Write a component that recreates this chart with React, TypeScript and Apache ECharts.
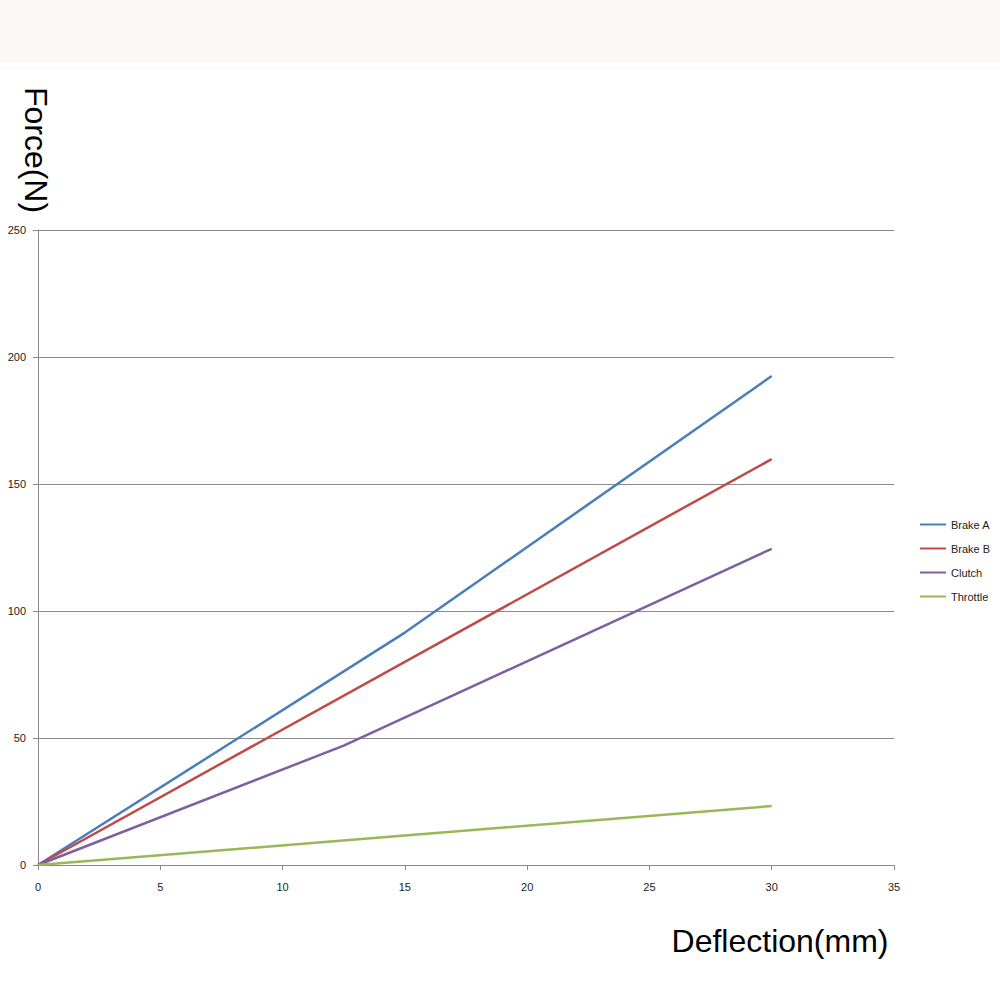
import React, { useEffect, useRef } from "react";
import * as echarts from "echarts";

const seriesNames = ["Brake A", "Brake B", "Clutch", "Throttle"];
const colors = ["#4a7ebb", "#be4b48", "#7d60a0", "#98b954"];
const brakeA: [number, number][] = [[0, 0], [15, 91.5], [30, 192.5]];
const brakeB: [number, number][] = [[0, 0], [15, 80], [30, 159.8]];
const clutch: [number, number][] = [[0, 0], [12.5, 47], [30, 124.5]];
const throttle: [number, number][] = [[0, 0], [15, 11.6], [30, 23.2]];
const xTitle = "Deflection(mm)";
const yTitle = "Force(N)";

export default function App() {
  const ref = useRef<HTMLDivElement>(null);
  useEffect(() => {
    document.body.style.margin = "0";
    const chart = echarts.init(ref.current!, null, { renderer: "svg" });
    const data = [brakeA, brakeB, clutch, throttle];
    chart.setOption({
      animation: false,
      backgroundColor: "#ffffff",
      grid: { left: 38, right: 106, top: 230, bottom: 135 },
      xAxis: {
        type: "value",
        min: 0,
        max: 35,
        interval: 5,
        splitLine: { show: false },
        axisLine: { lineStyle: { color: "#8a8a8a", width: 1 } },
        axisTick: { show: true, length: 5, lineStyle: { color: "#8a8a8a" } },
        axisLabel: { color: "#222", fontSize: 11, fontFamily: "Liberation Sans", margin: 16 },
      },
      yAxis: {
        type: "value",
        min: 0,
        max: 250,
        interval: 50,
        splitLine: { show: true, lineStyle: { color: "#8a8a8a", width: 1 } },
        axisLine: { show: true, lineStyle: { color: "#8a8a8a", width: 1 } },
        axisTick: { show: true, length: 5, lineStyle: { color: "#8a8a8a" } },
        axisLabel: { color: "#222", fontSize: 11, fontFamily: "Liberation Sans", margin: 12 },
      },
      legend: {
        orient: "vertical",
        left: 915,
        top: 514,
        icon: "rect",
        itemWidth: 26,
        itemHeight: 2,
        itemGap: 13,
        data: seriesNames,
        textStyle: { fontSize: 11, color: "#222", fontFamily: "Liberation Sans" },
      },
      series: seriesNames.map((name, i) => ({
        name,
        type: "line",
        data: data[i],
        symbol: "none",
        showSymbol: false,
        smooth: false,
        color: colors[i],
        lineStyle: { width: 2.5, color: colors[i] },
      })),
      graphic: [
        { type: "rect", shape: { x: 0, y: 0, width: 1000, height: 62 }, style: { fill: "#fcf8f7" }, z: -1 },
        { type: "rect", shape: { x: 0, y: 62, width: 1000, height: 8 }, style: { fill: "#fdfdfd" }, z: -1 },
        {
          type: "text",
          x: 36,
          y: 150,
          rotation: -Math.PI / 2,
          style: { text: yTitle, fontSize: 32, fontFamily: "Liberation Sans", fill: "#000", align: "center", verticalAlign: "middle" },
        },
        {
          type: "text",
          x: 780,
          y: 941,
          style: { text: xTitle, fontSize: 32, fontFamily: "Liberation Sans", fill: "#000", align: "center", verticalAlign: "middle" },
        },
      ],
    });
    return () => chart.dispose();
  }, []);
  return <div ref={ref} style={{ width: 1000, height: 1000 }} />;
}
